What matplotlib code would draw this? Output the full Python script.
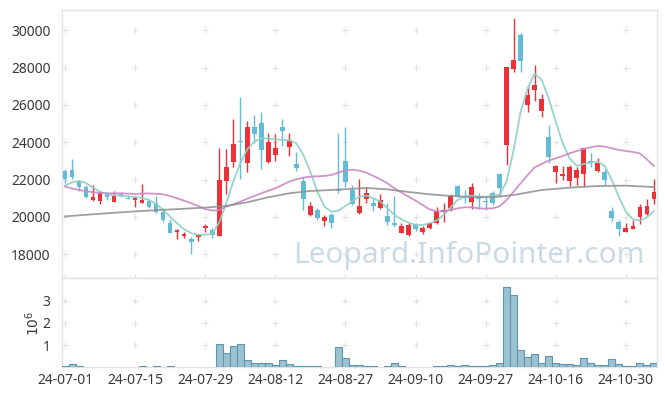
import numpy as np
import matplotlib.pyplot as plt

plt.rcParams['font.family'] = ['Noto Sans', 'DejaVu Sans']

# =========================================
# DATA
# =========================================
tick_labels = ['24-07-01', '24-07-15', '24-07-29', '24-08-12', '24-08-27',
               '24-09-10', '24-09-27', '24-10-16', '24-10-30']

opens = np.array([
    22460, 22520, 21900, 21600, 20910, 20860, 21230, 20820, 21230, 21000,
    20930, 20770, 20860, 20770, 20260, 19660, 19180, 19000, 18820, 18950,
    19410, 19320, 19000, 21950, 22960, 24090, 22910, 24820, 25050, 22950,
    23340, 24800, 23770, 22820, 21930, 20120, 20360, 19800, 20110, 21480,
    23000, 21450, 20200, 20980, 20750, 20460, 20050, 19680, 19160, 19050,
    19620, 19180, 19410, 19700, 20280, 20500, 21660, 21120, 20820, 21050,
    20860, 21270, 22300, 23870, 27930, 29750, 26000, 26800, 25690, 24280,
    22430, 22210, 21940, 22110, 22280, 23000, 22460, 22390, 20320, 19730,
    19210, 19360, 19980, 20160, 20980])
highs = np.array([
    22550, 23090, 21980, 21700, 21710, 21360, 21350, 21370, 21320, 21140,
    21140, 21750, 20950, 21120, 20460, 19870, 19340, 19200, 18950, 19070,
    19610, 19390, 23680, 23620, 25250, 26410, 25160, 25450, 25610, 24480,
    24450, 25230, 24520, 23500, 22120, 20790, 20480, 20120, 20230, 24480,
    24840, 21730, 22030, 21590, 21030, 21230, 20770, 21120, 19660, 19660,
    19700, 19530, 19710, 20550, 20730, 21230, 21710, 21450, 21800, 21270,
    21090, 21410, 22370, 28020, 30640, 29840, 27020, 28120, 26590, 24910,
    22780, 22730, 22770, 22690, 23690, 23440, 23140, 22550, 20550, 19840,
    19660, 19840, 20690, 20960, 22020])
lows = np.array([
    21800, 22020, 21370, 21000, 20870, 20680, 20900, 20800, 21050, 20940,
    20550, 20730, 20500, 20190, 19750, 19120, 18800, 18890, 18000, 18730,
    19210, 18860, 19000, 21230, 22660, 22040, 22390, 23950, 22550, 22910,
    23000, 23800, 23290, 22480, 20370, 20050, 19840, 19530, 19390, 21300,
    21620, 20640, 20160, 20770, 20320, 20430, 19570, 19480, 19120, 19000,
    19270, 19110, 19370, 19620, 19730, 20340, 21070, 20730, 20410, 20410,
    20370, 20660, 21090, 22780, 27770, 27780, 25600, 26230, 25340, 22910,
    21840, 21980, 21680, 21690, 21590, 22690, 22390, 21690, 19800, 19000,
    19210, 19360, 19620, 20100, 20690])
closes = np.array([
    22030, 22160, 21580, 21050, 21070, 21270, 21050, 21100, 21100, 20950,
    21030, 20910, 20550, 20250, 19840, 19160, 19300, 19090, 18680, 19030,
    19530, 19040, 21980, 22660, 23910, 24020, 24800, 24450, 23590, 24020,
    23680, 24600, 24110, 22620, 20980, 20590, 19960, 20000, 19700, 21390,
    21890, 20700, 20590, 21270, 20610, 20910, 19750, 19590, 19520, 19550,
    19340, 19430, 19680, 20320, 20390, 21120, 21120, 21050, 21590, 20980,
    20800, 20770, 21530, 28020, 28410, 28360, 26530, 27050, 26340, 23230,
    22730, 22320, 22690, 22520, 23690, 22870, 22910, 22000, 19930, 19360,
    19390, 19520, 20520, 20590, 21360])

# volume in millions of shares
volume = np.array([
    0.08, 0.14, 0.07, 0, 0, 0, 0, 0, 0, 0,
    0, 0.05, 0, 0.05, 0, 0.05, 0, 0, 0, 0,
    0, 0, 1.07, 0.64, 0.95, 1.07, 0.32, 0.18, 0.22, 0.22,
    0.11, 0.32, 0.14, 0.06, 0.06, 0.06, 0.06, 0, 0, 0.91,
    0.42, 0.11, 0.11, 0.06, 0.06, 0, 0.06, 0.18, 0.05, 0,
    0, 0, 0, 0.05, 0.05, 0.11, 0.06, 0.10, 0.05, 0.05,
    0.06, 0.11, 0.18, 3.62, 3.26, 0.76, 0.45, 0.58, 0.22, 0.51,
    0.22, 0.14, 0.14, 0.09, 0.40, 0.22, 0.09, 0.09, 0.36, 0.14,
    0.06, 0.05, 0.18, 0.11, 0.22])

ma_short = [
    21676, 21857, 21927, 21820, 21568, 21354, 21214, 21161, 21140, 21107,
    21070, 21016, 20909, 20695, 20373, 20015, 19660, 19339, 19125, 19050,
    19050, 19088, 19700, 20731, 21892, 22874, 23624, 24035, 24213, 24195,
    24160, 24124, 24106, 23945, 23320, 22427, 21356, 20552, 20284, 20338,
    20588, 20850, 21088, 21141, 20998, 20820, 20462, 20105, 19873, 19695,
    19570, 19570, 19659, 19802, 20105, 20516, 20909, 21088, 21141, 21088,
    21088, 21141, 21190, 21900, 23587, 25641, 26891, 27694, 27337, 26355,
    25105, 23944, 23140, 22730, 22837, 22909, 22962, 22730, 21980, 21087,
    20283, 19872, 19801, 19980, 20319]
ma_mid = [
    21623, 21530, 21444, 21380, 21320, 21290, 21266, 21266, 21266, 21250,
    21230, 21250, 21260, 21240, 21212, 21120, 20998, 20870, 20730, 20590,
    20420, 20338, 20374, 20552, 20677, 20820, 20981, 21124, 21267, 21409,
    21534, 21713, 21892, 22017, 22106, 22160, 22177, 22195, 22249, 22374,
    22500, 22530, 22480, 22373, 22195, 22016, 21802, 21534, 21302, 21088,
    20873, 20641, 20409, 20302, 20302, 20373, 20462, 20516, 20516, 20462,
    20445, 20462, 20570, 20909, 21355, 21801, 22248, 22658, 22837, 23016,
    23140, 23266, 23408, 23534, 23640, 23730, 23801, 23766, 23676, 23587,
    23534, 23480, 23408, 23087, 22730]
ma_long_idx = [0, 5, 10, 15, 20, 23, 26, 29, 32, 35, 38, 41, 43, 46, 49,
               52, 55, 58, 61, 64, 68, 72, 76, 80, 84]
ma_long = [20030, 20170, 20300, 20400, 20500, 20588, 20785, 21053, 21267,
           21392, 21445, 21510, 21552, 21480, 21337, 21212, 21123, 21070,
           21052, 21176, 21444, 21569, 21658, 21676, 21600]

# =========================================
# PLOT
# =========================================
RED = '#ec3238'
BLUE = '#62bcd6'
SPINE = '#e2e2e2'
CROSS = '#e2e2e2'
TXT = '#3a3a3a'

fig = plt.figure(figsize=(6.65, 3.96), dpi=100)
ax = fig.add_axes([0.0925, 0.298, 0.896, 0.677])
axv = fig.add_axes([0.0925, 0.0722, 0.896, 0.225], sharex=ax)

x = np.arange(len(closes))
up = closes >= opens
cols = np.where(up, RED, BLUE)

xt = np.arange(0, 81, 10)
yt = np.arange(18000, 30001, 2000)
gx, gy = np.meshgrid(xt, yt)
ax.plot(gx.ravel(), gy.ravel(), '+', color=CROSS, ms=4, mew=0.8, zorder=0)

ax.text(0.978, 0.057, 'Leopard.InfoPointer.com', transform=ax.transAxes,
        ha='right', va='baseline', fontsize=21.5, color='#c9dbe7', zorder=1)

ax.vlines(x, lows, highs, colors=cols, lw=1.0, zorder=3)
ax.bar(x, np.maximum(np.abs(closes - opens), 40), bottom=np.minimum(opens, closes),
       width=0.66, color=cols, zorder=4)

ax.plot(x, ma_short, color='#8fcfc4', lw=1.3, alpha=0.9, zorder=5)
ax.plot(x, ma_mid, color='#cc88c4', lw=1.3, alpha=0.9, zorder=5)
ax.plot(ma_long_idx, ma_long, color='#8e8e8e', lw=1.3, alpha=0.85, zorder=5)

ax.set_xlim(-0.5, 84.5)
ax.set_ylim(16730, 31090)
ax.set_yticks(yt)
ax.set_xticks(xt)
ax.tick_params(axis='y', length=0, pad=8, labelsize=10, labelcolor=TXT)
ax.tick_params(axis='x', direction='in', length=3, color=SPINE, labelbottom=False)

# volume
vm = volume > 0
axv.bar(x[vm], volume[vm], width=1.0, color='#9cc1d1', edgecolor='#5f95ae',
        lw=0.8, zorder=3)
vx, vy = np.meshgrid(xt, [1, 2, 3])
axv.plot(vx.ravel(), vy.ravel(), '+', color=CROSS, ms=4, mew=0.8, zorder=0)
axv.set_ylim(0, 4)
axv.set_yticks([1, 2, 3])
axv.set_xticks(xt)
axv.set_xticklabels(tick_labels)
axv.set_ylabel('$10^6$', fontsize=10, color=TXT, labelpad=0)
axv.tick_params(axis='y', length=0, pad=8, labelsize=10, labelcolor=TXT)
axv.tick_params(axis='x', length=0, pad=4, labelsize=10, labelcolor=TXT)

for a in (ax, axv):
    for s in a.spines.values():
        s.set_color(SPINE)
        s.set_linewidth(1.0)

fig.savefig('out.png', dpi=100)
